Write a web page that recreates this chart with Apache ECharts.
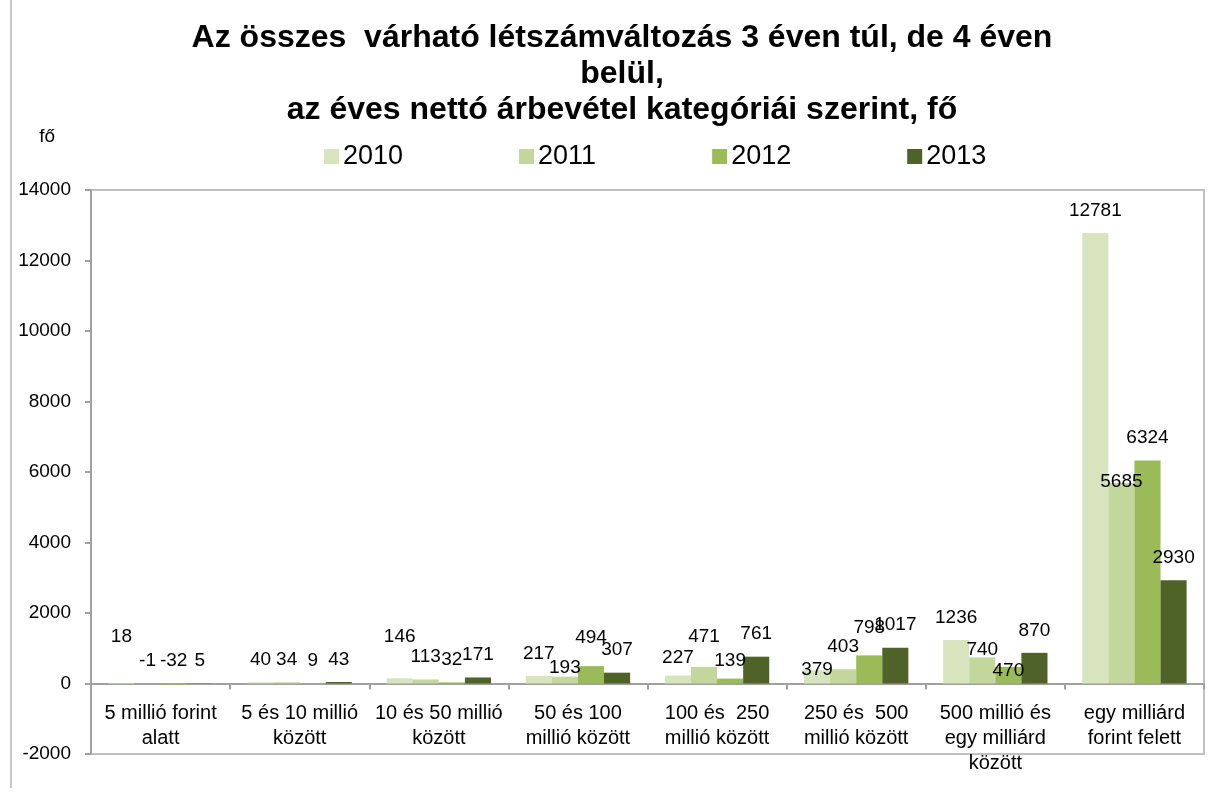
<!DOCTYPE html>
<html>
<head>
<meta charset="utf-8">
<script src="https://cdn.jsdelivr.net/npm/echarts@6/dist/echarts.min.js"></script>
<style>
html,body{margin:0;padding:0;background:#fff;}
#chart{width:1215px;height:794px;}
</style>
</head>
<body>
<div id="chart"></div>
<script>
var categories = [
  "5 millió forint\nalatt",
  "5 és 10 millió\nközött",
  "10 és 50 millió\nközött",
  "50 és 100\nmillió között",
  "100 és  250\nmillió között",
  "250 és  500\nmillió között",
  "500 millió és\negy milliárd\nközött",
  "egy milliárd\nforint felett"
];
var seriesNames = ["2010", "2011", "2012", "2013"];
var values2010 = [18, 40, 146, 217, 227, 379, 1236, 12781];
var values2011 = [-1, 34, 113, 193, 471, 403, 740, 5685];
var values2012 = [-32, 9, 32, 494, 139, 798, 470, 6324];
var values2013 = [5, 43, 171, 307, 761, 1017, 870, 2930];
var yTicks = { min: -2000, max: 14000, interval: 2000 };

// label vertical nudges (styling only): [seriesIndex, categoryIndex, dy]
var labelNudges = [
  [0, 0, -24], [0, 2, -19], [1, 3, 14], [0, 5, 22], [1, 6, 15], [2, 6, 26],
  [1, 7, 21], [1, 4, -8], [2, 3, -6], [0, 4, 5], [2, 4, 5], [2, 5, -5]
];

var colors = ["#D7E4BD", "#C3D69B", "#9BBB59", "#4F6228"];
var allValues = [values2010, values2011, values2012, values2013];

function buildData(si) {
  return allValues[si].map(function (v, ci) {
    var item = { value: v };
    var dy = 0;
    labelNudges.forEach(function (n) { if (n[0] === si && n[1] === ci) dy = n[2]; });
    if (dy !== 0) item.label = { offset: [0, dy] };
    return item;
  });
}

var chart = echarts.init(document.getElementById('chart'));
var option = {
  animation: false,
  backgroundColor: '#ffffff',
  title: {
    text: "Az összes  várható létszámváltozás 3 éven túl, de 4 éven\nbelül,\naz éves nettó árbevétel kategóriái szerint, fő",
    left: 617,
    top: 15,
    textAlign: 'center',
    textStyle: {
      fontFamily: 'Liberation Sans',
      fontSize: 32,
      fontWeight: 'bold',
      color: '#000',
      lineHeight: 36
    }
  },
  legend: {
    data: seriesNames,
    left: 319,
    top: 138,
    icon: 'rect',
    itemWidth: 15,
    itemHeight: 15,
    itemGap: 116,
    textStyle: { fontFamily: 'Liberation Sans', fontSize: 27, color: '#000', padding: [0, 0, 0, -1] }
  },
  grid: {
    left: 91, right: 11, top: 190, bottom: 40,
    outerBoundsMode: 'none',
    containLabel: false,
    show: true, borderColor: '#C0C0C0', borderWidth: 2
  },
  xAxis: {
    type: 'category',
    data: categories,
    axisLine: { onZero: true, lineStyle: { color: '#A0A0A0', width: 2 } },
    axisTick: { show: true, length: 6, lineStyle: { color: '#A0A0A0', width: 2 } },
    axisLabel: {
      interval: 0,
      margin: -53,
      fontFamily: 'Liberation Sans',
      fontSize: 20,
      lineHeight: 25,
      color: '#000'
    }
  },
  yAxis: {
    type: 'value',
    min: yTicks.min,
    max: yTicks.max,
    interval: yTicks.interval,
    name: 'fő',
    nameLocation: 'end',
    nameGap: 44,
    nameTextStyle: { fontFamily: 'Liberation Sans', fontSize: 19, color: '#000', align: 'right', padding: [0, 36, 0, 0] },
    axisLine: { show: true, lineStyle: { color: '#A0A0A0', width: 2 } },
    axisTick: { show: true, length: 6, lineStyle: { color: '#A0A0A0', width: 2 } },
    splitLine: { show: false },
    axisLabel: {
      margin: 20, fontFamily: 'Liberation Sans', fontSize: 19, color: '#000',
      formatter: function (v) { return String(v); }
    }
  },
  graphic: [
    { type: 'line', shape: { x1: 11, y1: 0, x2: 11, y2: 788 }, style: { stroke: '#C8C8C8', lineWidth: 2 } }
  ],
  series: seriesNames.map(function (name, si) {
    return {
      name: name,
      type: 'bar',
      barGap: '0%',
      barCategoryGap: '25%',
      itemStyle: { color: colors[si] },
      label: {
        show: true,
        position: 'top',
        distance: 13,
        fontFamily: 'Liberation Sans',
        fontSize: 19,
        color: '#000'
      },
      data: buildData(si)
    };
  })
};
chart.setOption(option);
</script>
</body>
</html>
